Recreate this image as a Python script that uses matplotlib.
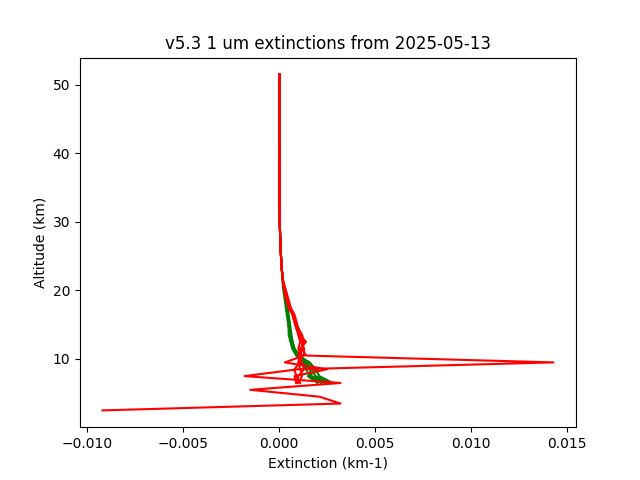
import matplotlib

matplotlib.use("Agg")

import matplotlib.pyplot as plt

# altitude grids (km)
ALT_SPIKE = [2.5, 3.5, 4.5, 5.5]
ALT_LOW = [6.5, 7.5, 8.5, 9.5, 10.5, 11.5, 12.5, 13.5,
           14.5, 15.5, 16.5, 17.5, 18.5, 19.5, 20.5, 21.5]
ALT_UP = [22.5, 23.5, 24.5, 25.5, 26.5, 27.5, 28.5, 29.5, 30.5, 31.5,
          32.5, 33.5, 34.5, 35.5, 36.5, 37.5, 38.5, 39.5, 40.5, 41.5,
          42.5, 43.5, 44.5, 45.5, 46.5, 47.5, 48.5, 49.5, 50.5, 51.5]

# upper part, all profiles nearly identical (km-1)
EXT_UP = [0.00016, 0.00013, 0.00011, 0.00009, 0.00007, 0.00006, 0.00005,
          0.00004, 0.00003, 0.00003, 0.00002, 0.00002, 0.00002, 0.00002,
          0.00002, 0.00002, 0.00002, 0.00002, 0.00002, 0.00001, 0.00001,
          0.00001, 0.00001, 0.00001, 0.00001, 0.00001, 0.00001, 0.00001,
          0.00001, 0.00001]

# green profiles, 6.5 - 21.5 km
GREEN_LOW = [
    [0.0026, 0.0019, 0.0017, 0.0013, 0.0009, 0.0007, 0.0006, 0.0006,
     0.0005, 0.0005, 0.00045, 0.0004, 0.00035, 0.0003, 0.00025, 0.0002],
    [0.0028, 0.0021, 0.0019, 0.0016, 0.0010, 0.0008, 0.0007, 0.0006,
     0.00055, 0.0005, 0.00045, 0.0004, 0.00035, 0.0003, 0.00025, 0.0002],
    [0.0022, 0.0016, 0.0014, 0.0012, 0.0009, 0.0007, 0.0006, 0.0005,
     0.0005, 0.00045, 0.0004, 0.00035, 0.0003, 0.00025, 0.0002, 0.00018],
    [0.0020, 0.0015, 0.0020, 0.0014, 0.0011, 0.0008, 0.0007, 0.0006,
     0.00055, 0.0005, 0.00045, 0.0004, 0.00035, 0.0003, 0.00022, 0.00018],
    [0.0024, 0.0017, 0.0016, 0.0011, 0.0010, 0.0008, 0.0007, 0.00065,
     0.0006, 0.00055, 0.0005, 0.00045, 0.0004, 0.0003, 0.00025, 0.0002],
]

# red profiles, 6.5 - 21.5 km
RED_LOW = [
    [0.0009, 0.0008, 0.0025, 0.0003, 0.0013, 0.0013, 0.0012, 0.0011,
     0.0010, 0.0008, 0.0007, 0.0006, 0.0004, 0.0003, 0.00025, 0.0002],
    [0.0010, 0.0012, 0.0011, 0.0010, 0.0011, 0.0012, 0.0013, 0.0012,
     0.0010, 0.0009, 0.0008, 0.0006, 0.0005, 0.0004, 0.0003, 0.0002],
    [0.0009, 0.0010, 0.0013, 0.0012, 0.0010, 0.0011, 0.0014, 0.0011,
     0.0009, 0.0008, 0.0007, 0.0006, 0.0005, 0.0004, 0.0003, 0.0002],
    [0.0011, 0.0009, 0.0008, 0.0011, 0.0012, 0.0010, 0.0011, 0.0010,
     0.0009, 0.0008, 0.0007, 0.0005, 0.0004, 0.0003, 0.00025, 0.0002],
]

# red profile with the large low-altitude spikes
SPIKE_BOTTOM = [-0.0092, 0.0032, 0.0021, -0.0015]
SPIKE_LOW = [0.0032, -0.0018, 0.0010, 0.0143, 0.0014, 0.0012, 0.0012, 0.0011,
             0.0009, 0.0008, 0.0007, 0.0005, 0.0004, 0.0003, 0.00025, 0.0002]


def main() -> None:
    fig, ax = plt.subplots(figsize=(6.4, 4.8), dpi=100)
    alt_full = ALT_LOW + ALT_UP

    for ext in GREEN_LOW:
        ax.plot(ext + EXT_UP, alt_full, color="green")
    for ext in RED_LOW:
        ax.plot(ext + EXT_UP, alt_full, color="red")
    ax.plot(SPIKE_BOTTOM + SPIKE_LOW + EXT_UP, ALT_SPIKE + alt_full, color="red")

    ax.set_title("v5.3 1 um extinctions from 2025-05-13")
    ax.set_xlabel("Extinction (km-1)")
    ax.set_ylabel("Altitude (km)")

    fig.savefig("out.png")
    plt.close(fig)


if __name__ == "__main__":
    main()
